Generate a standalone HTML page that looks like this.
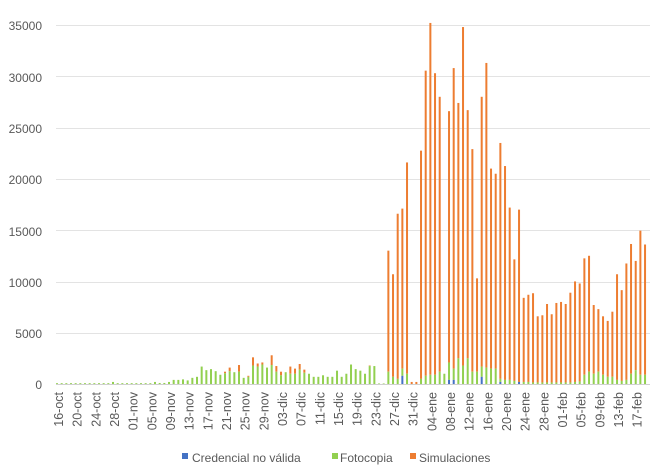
<!DOCTYPE html>
<html><head><meta charset="utf-8"><style>
html,body{margin:0;padding:0;background:#fff;}
svg{display:block;font-family:"Liberation Sans",sans-serif;}
</style></head><body>
<svg id="c" width="660" height="473" xmlns="http://www.w3.org/2000/svg">
<g stroke="#e3e3e3" stroke-width="1">
<line x1="56" x2="650" y1="25.5" y2="25.5"/><line x1="56" x2="650" y1="76.5" y2="76.5"/>
<line x1="56" x2="650" y1="128.5" y2="128.5"/><line x1="56" x2="650" y1="179.5" y2="179.5"/>
<line x1="56" x2="650" y1="230.5" y2="230.5"/><line x1="56" x2="650" y1="282.5" y2="282.5"/>
<line x1="56" x2="650" y1="333.5" y2="333.5"/>
</g>
<g fill="#595959" font-size="12" text-anchor="end">
<text x="42" y="30">35000</text><text x="42" y="82">30000</text><text x="42" y="133">25000</text>
<text x="42" y="184">20000</text><text x="42" y="236">15000</text><text x="42" y="287">10000</text>
<text x="42" y="338">5000</text><text x="42" y="389">0</text>
</g>
<g id="bars"></g>
<line x1="56" x2="650" y1="384.5" y2="384.5" stroke="#d0d0d0"/>
<g id="xl" fill="#595959" font-size="12.5" text-anchor="end"></g>
<rect x="182" y="453" width="6" height="6" fill="#4472C4"/>
<text x="192" y="462" font-size="12" fill="#595959">Credencial no válida</text>
<rect x="332" y="453" width="6" height="6" fill="#92D050"/>
<text x="340" y="462" font-size="12" fill="#595959">Fotocopia</text>
<rect x="410" y="453" width="6" height="6" fill="#ED7D31"/>
<text x="419" y="462" font-size="12" fill="#595959">Simulaciones</text>
</svg>
<script>
var g=[], t=[], b=[];
for(var i=0;i<21;i++){g.push(i==12?200:80);t.push(i==12?200:80);b.push(0);}
var L=[[200,200],[100,100],[100,100],[200,200],[400,400],[400,400],[450,450],[350,350],[600,600],[700,700],
[1700,1700],[1350,1350],[1450,1450],[1250,1250],[900,900],[1050,1200],[1250,1600],[1150,1150],[1200,1850],[600,600],
[700,800],[1800,2600],[1700,2000],[1900,2100],[1600,1600],[1850,2800],[1200,1750],[850,1200],[1150,1150],[1000,1700],
[1000,1500],[1400,1950],[1100,1400],[1000,1000],[700,700],[700,700],[850,850],[700,700]];
L.forEach(function(p){g.push(p[0]);t.push(p[1]);b.push(0);});
var R=[[700,700],[1300,1300],[700,700],[1000,1000],[1900,1900],[1450,1450],[1300,1300],[1000,1000],[1750,1800],[1750,1750],
[50,50],[50,50],[1200,13000],[700,10700],[500,16600],[1500,17100,800],[1000,21600],[0,200],[0,200],[500,22750],
[800,30550],[900,35200],[900,30300],[1200,28000],[1000,1000],[2100,26600,400],[1500,30800,400],[2500,27400],[1800,34800],[2500,26700],
[1200,22900],[1200,10300],[1700,28000,700],[1600,31300],[1500,21000],[1500,20500],[500,23500,200],[400,21250],[400,17200],[300,12150],
[200,17000,200],[200,8400],[200,8700],[150,8850],[150,6600],[150,6700],[150,7800],[150,6800],[150,7900],[150,8000],
[150,7800],[150,8900],[200,10000],[250,9800],[900,12250],[1200,12500],[1000,7700],[1200,7300],[900,6600],[700,6150],
[700,7050],[400,10700],[300,9150],[400,11750],[1000,13650],[1350,12000],[900,14950],[900,13600]];
R.forEach(function(p){g.push(p[0]);t.push(p[1]);b.push(p[2]||0);});
var ns="http://www.w3.org/2000/svg",B=document.getElementById("bars");
function Y(v){return 384-v*359/35000;}
function rect(x,y1,y2,c){if(y2-y1<=0.2)return;var r=document.createElementNS(ns,"rect");r.setAttribute("x",x);r.setAttribute("y",y1);r.setAttribute("width",2);r.setAttribute("height",y2-y1);r.setAttribute("fill",c);B.appendChild(r);}
for(var i=0;i<t.length;i++){
 var x=57+4.667*i-1;
 rect(x,Y(t[i]),Y(g[i]),"#ED7D31");
 rect(x,Y(g[i]),Y(b[i]),"#92D050");
 rect(x,Y(b[i]),384,"#4472C4");
}
var labs=["16-oct","20-oct","24-oct","28-oct","01-nov","05-nov","09-nov","13-nov","17-nov","21-nov","25-nov","29-nov","03-dic","07-dic","11-dic","15-dic","19-dic","23-dic","27-dic","31-dic","04-ene","08-ene","12-ene","16-ene","20-ene","24-ene","28-ene","01-feb","05-feb","09-feb","13-feb","17-feb"];
var XL=document.getElementById("xl");
labs.forEach(function(s,k){var x=57+4.667*4*k+6;var e=document.createElementNS(ns,"text");e.setAttribute("transform","translate("+x+",392) rotate(-90)");e.textContent=s;XL.appendChild(e);});
</script>
</body></html>
